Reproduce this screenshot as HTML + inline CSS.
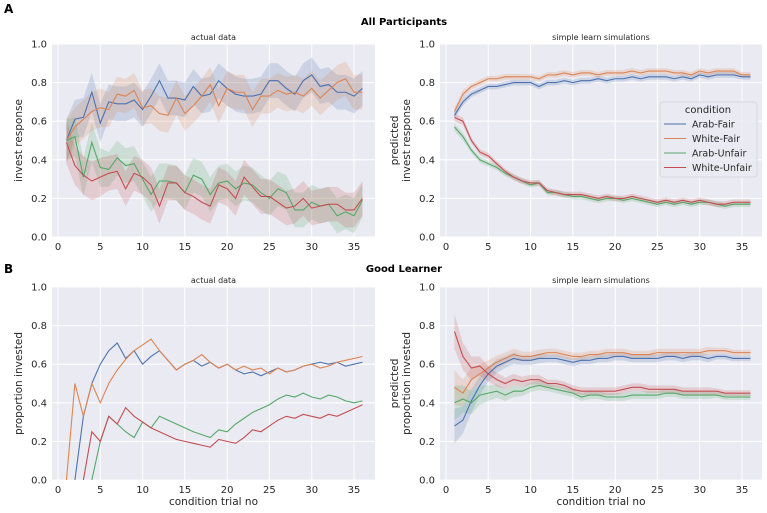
<!DOCTYPE html>
<html><head><meta charset="utf-8"><style>
body{margin:0;background:#fff;font-family:"DejaVu Sans","Liberation Sans",sans-serif;}
svg text{font-family:"DejaVu Sans","Liberation Sans",sans-serif;}
</style></head><body>
<svg id="fig" width="767" height="509" xmlns="http://www.w3.org/2000/svg">
<text x="4" y="13" font-size="12" font-weight="bold">A</text>
<text x="404" y="25" font-size="10" font-weight="bold" text-anchor="middle">All Participants</text>
<text x="4" y="273" font-size="12" font-weight="bold">B</text>
<text x="404" y="272" font-size="10" font-weight="bold" text-anchor="middle">Good Learner</text>
</svg>
<script>
const trials = Array.from({length:36},(_,i)=>i+1);
const seriesNames = ["Arab-Fair","White-Fair","Arab-Unfair","White-Unfair"];
const colors = ["#4c72b0","#dd8452","#55a868","#c44e52"];
const xTicks = [0,5,10,15,20,25,30,35];
const yTicks = [0,0.2,0.4,0.6,0.8,1.0];
const yTickLabels = ["0.0","0.2","0.4","0.6","0.8","1.0"];

const aActualArabFair=[0.50,0.61,0.62,0.75,0.59,0.70,0.69,0.69,0.71,0.66,0.73,0.81,0.72,0.72,0.71,0.78,0.73,0.74,0.81,0.77,0.74,0.73,0.73,0.74,0.81,0.81,0.77,0.74,0.81,0.84,0.78,0.79,0.75,0.75,0.73,0.77];
const aActualWhiteFair=[0.50,0.57,0.61,0.65,0.67,0.66,0.74,0.73,0.76,0.67,0.68,0.64,0.63,0.72,0.64,0.68,0.73,0.79,0.68,0.77,0.75,0.75,0.66,0.73,0.73,0.76,0.74,0.75,0.73,0.77,0.72,0.76,0.80,0.82,0.75,0.75];
const aActualArabUnfair=[0.50,0.52,0.31,0.49,0.36,0.35,0.41,0.37,0.38,0.30,0.22,0.29,0.29,0.28,0.23,0.32,0.30,0.22,0.28,0.29,0.25,0.28,0.27,0.23,0.20,0.25,0.23,0.14,0.14,0.18,0.16,0.17,0.11,0.13,0.11,0.19];
const aActualWhiteUnfair=[0.49,0.37,0.32,0.29,0.31,0.33,0.34,0.25,0.33,0.31,0.27,0.16,0.28,0.28,0.23,0.21,0.18,0.16,0.27,0.25,0.20,0.31,0.26,0.21,0.21,0.18,0.15,0.16,0.20,0.15,0.16,0.17,0.17,0.14,0.14,0.20];
const aActualCI=[0.11,0.10,0.10,0.10,0.10,0.09,0.09,0.09,0.09,0.09,0.09,0.09,0.09,0.09,0.09,0.09,0.09,0.09,0.09,0.09,0.09,0.09,0.09,0.09,0.09,0.09,0.09,0.09,0.09,0.09,0.09,0.09,0.09,0.09,0.09,0.09];

const aSimArabFair=[0.63,0.70,0.74,0.76,0.78,0.78,0.79,0.80,0.80,0.80,0.78,0.80,0.80,0.81,0.80,0.81,0.81,0.82,0.81,0.82,0.82,0.83,0.82,0.83,0.83,0.83,0.82,0.83,0.82,0.84,0.83,0.84,0.84,0.84,0.83,0.83];
const aSimWhiteFair=[0.65,0.74,0.78,0.80,0.82,0.82,0.83,0.83,0.83,0.83,0.82,0.84,0.84,0.85,0.84,0.85,0.85,0.84,0.85,0.85,0.85,0.86,0.85,0.86,0.86,0.86,0.85,0.85,0.84,0.86,0.85,0.86,0.86,0.86,0.84,0.84];
const aSimArabUnfair=[0.57,0.52,0.45,0.40,0.38,0.36,0.33,0.31,0.29,0.27,0.28,0.23,0.23,0.22,0.21,0.21,0.20,0.19,0.20,0.20,0.19,0.20,0.19,0.18,0.17,0.18,0.17,0.18,0.17,0.18,0.18,0.17,0.16,0.17,0.17,0.17];
const aSimWhiteUnfair=[0.62,0.60,0.50,0.44,0.42,0.38,0.34,0.31,0.29,0.28,0.28,0.24,0.23,0.22,0.22,0.22,0.21,0.20,0.21,0.20,0.20,0.21,0.20,0.19,0.18,0.19,0.18,0.19,0.18,0.19,0.18,0.17,0.17,0.18,0.18,0.18];
const aSimCI=[0.02,0.02,0.015,0.015,0.015,0.015,0.015,0.015,0.015,0.015,0.015,0.015,0.015,0.015,0.015,0.015,0.015,0.015,0.015,0.015,0.015,0.015,0.015,0.015,0.015,0.015,0.015,0.015,0.015,0.015,0.015,0.015,0.015,0.015,0.015,0.015];

const bActualArabFair=[null,0,0.33,0.50,0.60,0.67,0.71,0.63,0.67,0.60,0.64,0.67,0.62,0.57,0.60,0.62,0.59,0.61,0.58,0.60,0.57,0.55,0.56,0.54,0.56,0.58,0.56,0.57,0.59,0.60,0.61,0.60,0.61,0.59,0.60,0.61];
const bActualWhiteFair=[0,0.50,0.33,0.50,0.40,0.50,0.57,0.625,0.67,0.70,0.73,0.67,0.62,0.57,0.60,0.62,0.65,0.61,0.58,0.60,0.57,0.59,0.57,0.58,0.55,0.58,0.56,0.57,0.59,0.60,0.58,0.59,0.61,0.62,0.63,0.64];
const bActualArabUnfair=[null,null,null,0,0.20,0.33,0.29,0.25,0.22,0.30,0.27,0.33,0.31,0.29,0.27,0.25,0.235,0.22,0.26,0.25,0.29,0.32,0.35,0.37,0.39,0.42,0.44,0.43,0.45,0.43,0.42,0.44,0.43,0.41,0.40,0.41];
const bActualWhiteUnfair=[null,null,0,0.25,0.20,0.33,0.29,0.375,0.33,0.30,0.27,0.25,0.23,0.21,0.20,0.19,0.18,0.17,0.21,0.20,0.19,0.22,0.26,0.25,0.28,0.31,0.33,0.32,0.34,0.33,0.32,0.34,0.33,0.35,0.37,0.39];

const bSimArabFair=[0.28,0.31,0.41,0.49,0.55,0.59,0.61,0.63,0.62,0.62,0.63,0.63,0.63,0.62,0.61,0.62,0.62,0.63,0.63,0.64,0.64,0.63,0.63,0.63,0.63,0.64,0.64,0.63,0.64,0.64,0.63,0.64,0.64,0.63,0.63,0.63];
const bSimWhiteFair=[0.48,0.45,0.52,0.55,0.58,0.61,0.63,0.65,0.64,0.64,0.65,0.66,0.66,0.65,0.64,0.64,0.65,0.65,0.66,0.66,0.66,0.65,0.65,0.65,0.66,0.66,0.66,0.66,0.66,0.66,0.67,0.67,0.67,0.66,0.66,0.66];
const bSimArabUnfair=[0.40,0.42,0.40,0.44,0.45,0.46,0.44,0.46,0.46,0.48,0.49,0.48,0.47,0.46,0.45,0.43,0.44,0.44,0.43,0.43,0.43,0.44,0.44,0.44,0.44,0.45,0.45,0.44,0.44,0.44,0.44,0.44,0.43,0.43,0.43,0.43];
const bSimWhiteUnfair=[0.77,0.64,0.58,0.59,0.55,0.52,0.50,0.52,0.51,0.52,0.52,0.50,0.50,0.49,0.47,0.46,0.46,0.46,0.46,0.46,0.47,0.48,0.48,0.47,0.47,0.47,0.47,0.46,0.46,0.46,0.46,0.46,0.45,0.45,0.45,0.45];
const bSimCI=[0.09,0.07,0.06,0.05,0.04,0.035,0.03,0.03,0.025,0.025,0.025,0.02,0.02,0.02,0.02,0.02,0.02,0.02,0.02,0.02,0.02,0.02,0.02,0.02,0.02,0.02,0.02,0.02,0.02,0.02,0.02,0.015,0.015,0.015,0.015,0.015];

const NS="http://www.w3.org/2000/svg";
const svg=document.getElementById('fig');
function el(tag,attrs,parent){const e=document.createElementNS(NS,tag);for(const k in attrs)e.setAttribute(k,attrs[k]);(parent||svg).appendChild(e);return e;}

const panels=[
 {id:'a-actual',L:52,R:375,T:44,B:237,x0:58,x35:354,title:'actual data',ylab:['invest response'],series:[aActualArabFair,aActualWhiteFair,aActualArabUnfair,aActualWhiteUnfair],ci:aActualCI,xlabel:false},
 {id:'a-sim',L:440,R:762,T:44,B:237,x0:446,x35:742,title:'simple learn simulations',ylab:['predicted','invest response'],series:[aSimArabFair,aSimWhiteFair,aSimArabUnfair,aSimWhiteUnfair],ci:aSimCI,xlabel:false,legend:true},
 {id:'b-actual',L:52,R:375,T:287,B:480,x0:58,x35:354,title:'actual data',ylab:['proportion invested'],series:[bActualArabFair,bActualWhiteFair,bActualArabUnfair,bActualWhiteUnfair],ci:null,xlabel:true},
 {id:'b-sim',L:440,R:762,T:287,B:480,x0:446,x35:742,title:'simple learn simulations',ylab:['predicted','proportion invested'],series:[bSimArabFair,bSimWhiteFair,bSimArabUnfair,bSimWhiteUnfair],ci:bSimCI,xlabel:true}
];

panels.forEach(p=>{
 const g=el('g',{});
 
 
 const xs=v=>p.x0+(v)*(p.x35-p.x0)/35;
 const ys=v=>p.B-v*(p.B-p.T);
 const bg=el('rect',{x:p.L,y:p.T,width:p.R-p.L,height:p.B-p.T,fill:'#eaeaf2'},g);
 
 
 xTicks.forEach(t=>{
  const l=el('line',{x1:xs(t),x2:xs(t),y1:p.T,y2:p.B,stroke:'#fff','stroke-width':1},g);
  
  
  const tx=el('text',{x:xs(t),y:p.B+13,'font-size':10,fill:'#262626','text-anchor':'middle'},g);
  tx.textContent=t;
  
  
 });
 yTicks.forEach((t,i)=>{
  const l=el('line',{x1:p.L,x2:p.R,y1:ys(t),y2:ys(t),stroke:'#fff','stroke-width':1},g);
  
  
  const tx=el('text',{x:p.L-5,y:ys(t)+3.5,'font-size':10,fill:'#262626','text-anchor':'end'},g);
  tx.textContent=yTickLabels[i];
  
  
 });
 const tt=el('text',{x:(p.L+p.R)/2,y:p.T-4,'font-size':8,fill:'#262626','text-anchor':'middle'},g);
 tt.textContent=p.title;
 
 
 const cy=(p.T+p.B)/2;
 p.ylab.forEach((s,i)=>{
  const n=p.ylab.length;
  const xx=p.L-30+(i-(n-1))*12;
  const t=el('text',{x:xx,y:cy,'font-size':10.5,fill:'#262626','text-anchor':'middle',transform:`rotate(-90 ${xx} ${cy})`},g);
  t.textContent=s;
  
  
 });
 if(p.xlabel){
  const t=el('text',{x:(p.L+p.R)/2,y:p.B+25,'font-size':10.5,fill:'#262626','text-anchor':'middle'},g);
  t.textContent='condition trial no';
  
  
 }
 if(p.ci){
  p.series.forEach((s,k)=>{
   let up=[],dn=[];
   s.forEach((v,i)=>{if(v==null)return;up.push([xs(trials[i]),ys(Math.min(1,v+p.ci[i]))]);dn.push([xs(trials[i]),ys(Math.max(0,v-p.ci[i]))]);});
   const pts=up.concat(dn.reverse()).map(q=>q.join(',')).join(' ');
   const b=el('polygon',{points:pts,fill:colors[k],'fill-opacity':0.2,stroke:'none'},g);
   
   
  });
 }
 p.series.forEach((s,k)=>{
  const pts=[];
  s.forEach((v,i)=>{if(v!=null)pts.push(xs(trials[i])+','+ys(v));});
  const l=el('polyline',{points:pts.join(' '),fill:'none',stroke:colors[k],'stroke-width':1.1},g);
  
  
 });
 if(p.legend){
  const lg=el('g',{},g);
  
  
  el('rect',{x:660,y:102,width:97,height:75,rx:3,fill:'#eaeaf2','fill-opacity':0.8,stroke:'#d8d8e0'},lg);
  const t=el('text',{x:708,y:113,'font-size':10,fill:'#262626','text-anchor':'middle'},lg);
  t.textContent='condition';
  seriesNames.forEach((n,k)=>{
   const yy=124+k*14.5;
   el('line',{x1:664,x2:686,y1:yy,y2:yy,stroke:colors[k],'stroke-width':1.1},lg);
   const tx=el('text',{x:692,y:yy+3.5,'font-size':9.5,fill:'#262626'},lg);
   tx.textContent=n;
   
   
  });
 }
});
</script>
</body></html>
